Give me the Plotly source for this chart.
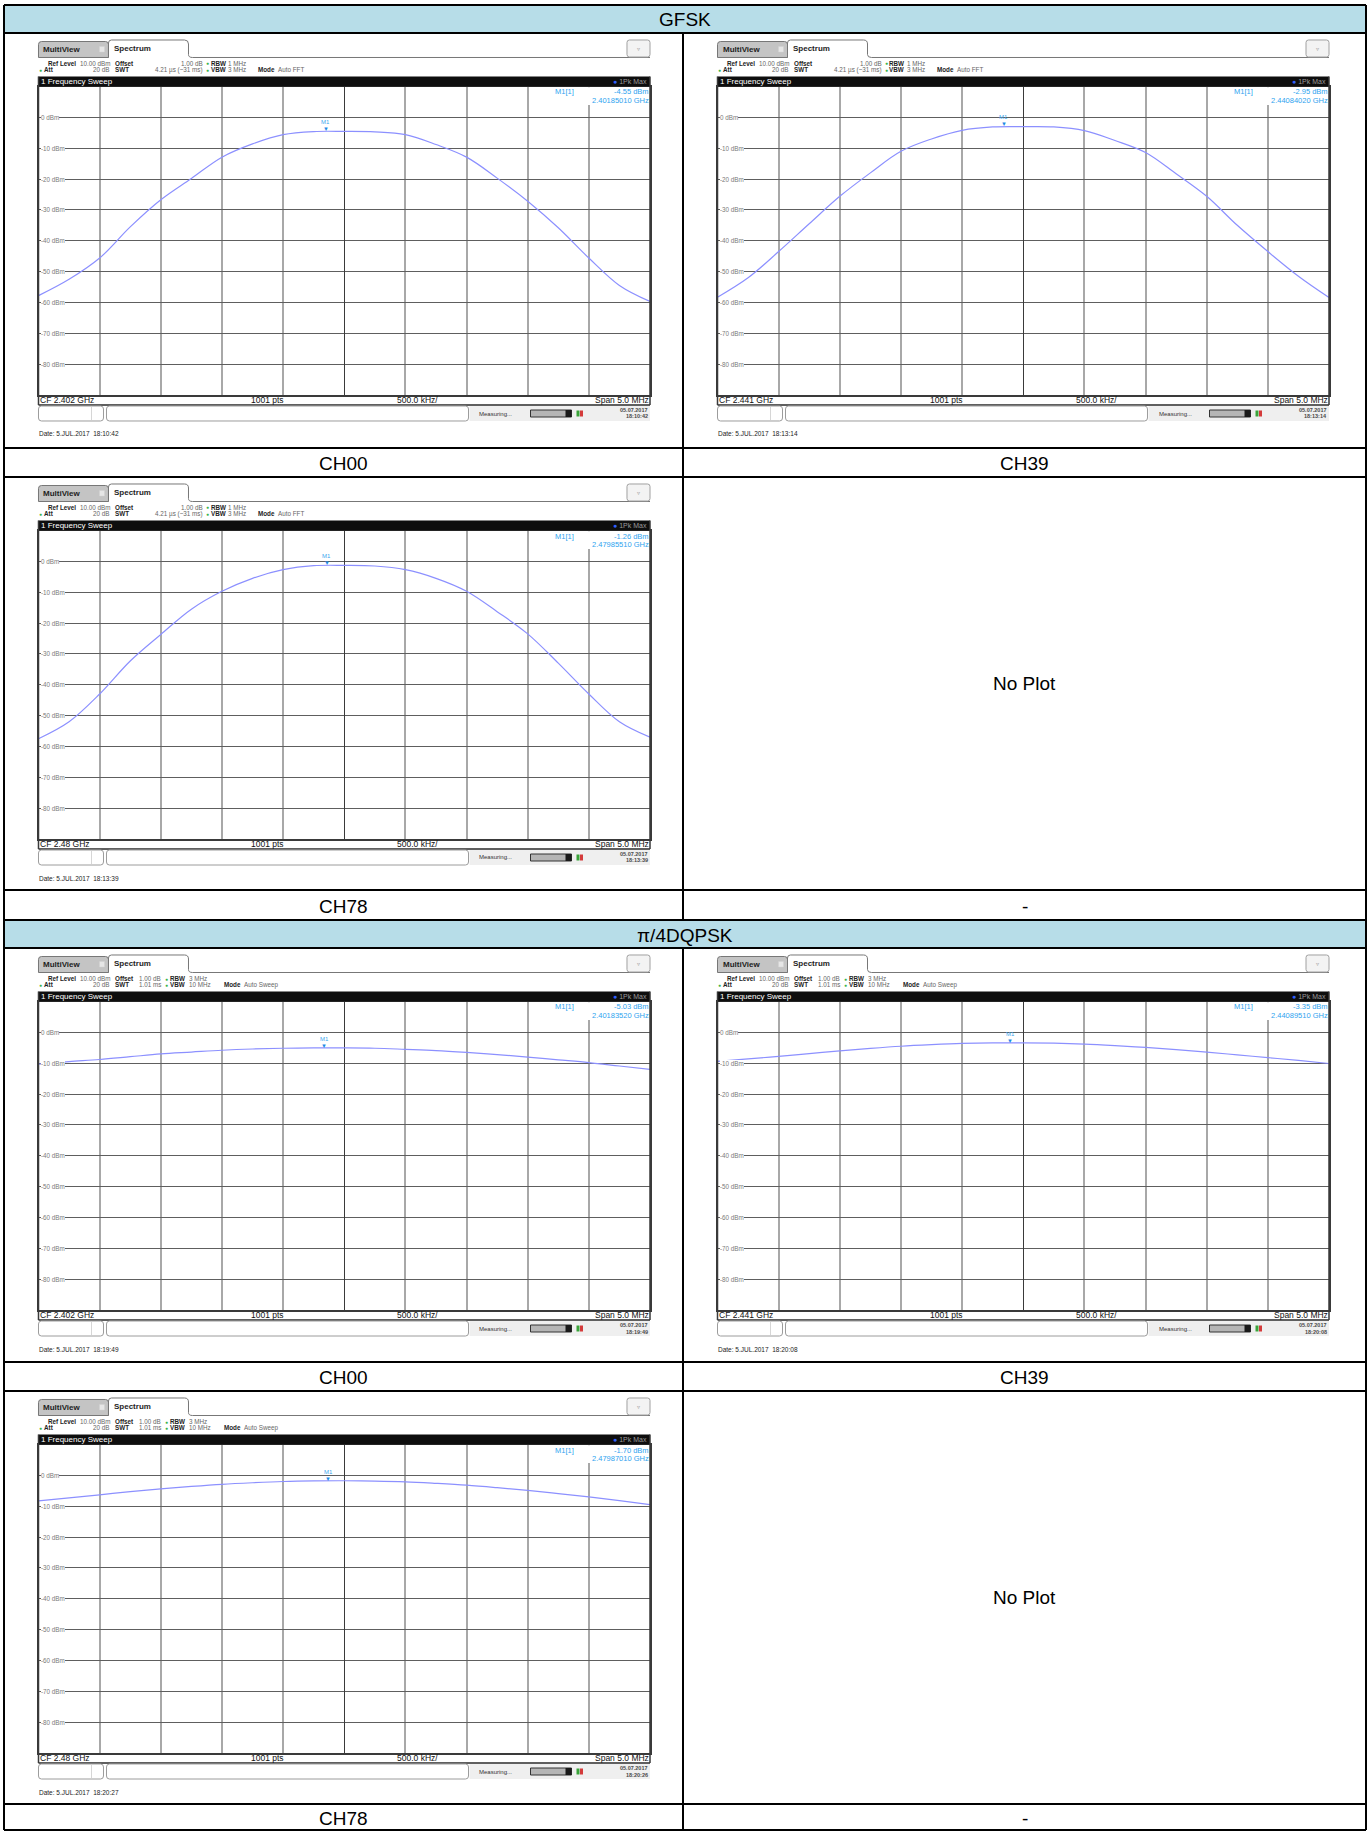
import plotly.graph_objects as go

W, H = 1370, 1832

# ---------------- data ----------------
FREQ_OFFSET_MHZ = [-2.5, -2.25, -2.0, -1.75, -1.5, -1.25, -1.0, -0.75, -0.5, -0.25, 0.0,
                   0.25, 0.5, 0.75, 1.0, 1.25, 1.5, 1.75, 2.0, 2.25, 2.5]
LEVEL_TICKS_DBM = [0, -10, -20, -30, -40, -50, -60, -70, -80]

CHANNELS = ["CH00", "CH39", "CH78"]
CENTER_GHZ = [2.402, 2.441, 2.48]
CF_LABELS = ["CF 2.402 GHz", "CF 2.441 GHz", "CF 2.48 GHz"]

GFSK_CH00 = [-57.8, -52.5, -45.6, -35.5, -26.7, -19.8, -12.9, -8.6, -5.6, -4.6, -4.55,
             -4.7, -5.6, -8.8, -12.9, -19.7, -27.2, -35.8, -45.6, -54.5, -59.7]
GFSK_CH39 = [-58.3, -52.0, -43.5, -34.5, -25.6, -18.0, -11.0, -7.0, -4.2, -3.1, -3.0,
             -3.1, -4.3, -7.5, -11.4, -18.3, -25.6, -35.0, -43.5, -51.5, -58.4]
GFSK_CH78 = [-57.5, -52.0, -43.0, -32.3, -23.7, -15.5, -9.7, -5.5, -2.7, -1.4, -1.3,
             -1.5, -2.7, -5.5, -9.7, -16.3, -23.5, -33.0, -43.0, -52.0, -57.0]

DQPSK_CH00 = [-10.3, -9.5, -8.8, -7.9, -7.0, -6.4, -5.8, -5.4, -5.15, -5.05, -5.05,
              -5.15, -5.5, -5.9, -6.5, -7.2, -8.0, -8.9, -9.8, -10.9, -12.0]
DQPSK_CH39 = [-9.4, -8.6, -7.8, -6.9, -6.0, -5.2, -4.5, -4.0, -3.6, -3.4, -3.4,
              -3.5, -3.8, -4.3, -4.9, -5.6, -6.4, -7.3, -8.2, -9.1, -10.1]
DQPSK_CH78 = [-8.3, -7.3, -6.3, -5.3, -4.4, -3.6, -2.9, -2.4, -2.0, -1.8, -1.75,
              -1.85, -2.1, -2.6, -3.2, -4.0, -4.9, -5.9, -7.0, -8.2, -9.5]

MARKER_GFSK_GHZ = [2.40185010, 2.44084020, 2.47985510]
MARKER_GFSK_DBM = [-4.55, -2.95, -1.26]
MARKER_DQPSK_GHZ = [2.40183520, 2.44089510, 2.47987010]
MARKER_DQPSK_DBM = [-5.03, -3.35, -1.70]

DATE_TIMES_GFSK = ["18:10:42", "18:13:14", "18:13:39"]
STATUS_TIMES_GFSK = ["18:10:42", "18:13:14", "18:13:39"]
DATE_TIMES_DQPSK = ["18:19:49", "18:20:08", "18:20:27"]
STATUS_TIMES_DQPSK = ["18:19:49", "18:20:08", "18:20:26"]

SECTION_TITLES = ["GFSK", "π/4DQPSK"]

# ---------------- helpers ----------------
SCR = "Liberation Sans Narrow, Arial Narrow, Liberation Sans, Arial, sans-serif"
TAB = "Liberation Sans, Arial, sans-serif"

shapes, annos, traces = [], [], []
axes = {}


def X(px):
    return px / W


def Y(py):
    return 1 - py / H


def add_rect(x0, y0, x1, y1, fill="rgba(0,0,0,0)", line="rgba(0,0,0,0)", lw=0):
    shapes.append(dict(type="rect", xref="paper", yref="paper", x0=X(x0), x1=X(x1),
                       y0=Y(y1), y1=Y(y0), fillcolor=fill,
                       line=dict(color=line, width=lw), layer="above"))


def add_line(x0, y0, x1, y1, color="#000", lw=1):
    shapes.append(dict(type="line", xref="paper", yref="paper", x0=X(x0), x1=X(x1),
                       y0=Y(y0), y1=Y(y1), line=dict(color=color, width=lw), layer="above"))


def add_path(segs, fill="rgba(0,0,0,0)", line="rgba(0,0,0,0)", lw=1):
    parts = []
    for s in segs:
        c, nums = s[0], s[1:]
        pts = [f"{X(nums[i]):.6f},{Y(nums[i + 1]):.6f}" for i in range(0, len(nums), 2)]
        parts.append(c + " " + " ".join(pts) if pts else c)
    shapes.append(dict(type="path", xref="paper", yref="paper", path=" ".join(parts),
                       fillcolor=fill, line=dict(color=line, width=lw), layer="above"))


def rrect(x0, y0, x1, y1, r, fill, line, lw=1):
    add_path([("M", x0 + r, y0), ("L", x1 - r, y0), ("Q", x1, y0, x1, y0 + r),
              ("L", x1, y1 - r), ("Q", x1, y1, x1 - r, y1), ("L", x0 + r, y1),
              ("Q", x0, y1, x0, y1 - r), ("L", x0, y0 + r), ("Q", x0, y0, x0 + r, y0), ("Z",)],
             fill=fill, line=line, lw=lw)


def add_text(x, y, s, size=7, color="#222", xa="left", ya="middle", family=SCR, bg=None,
             xref="paper", yref="paper", yshift=0):
    a = dict(xref=xref, yref=yref, x=X(x) if xref == "paper" else x,
             y=Y(y) if yref == "paper" else y, text=s, showarrow=False,
             xanchor=xa, yanchor=ya, font=dict(size=size, color=color, family=family),
             borderpad=0, borderwidth=0, yshift=yshift)
    if bg:
        a["bgcolor"] = bg
    annos.append(a)


def b(s):
    return f"<b>{s}</b>"


GREEN = "#3cb34a"
INFO = 6.3


def add_panel(k, cl, rt, cf, vals, mk_f, mk_db, cf_label, date_t, status_t, mode):
    L, R = cl + 34.5, cl + 646
    T, B = rt + 53.5, rt + 362
    dw = (R - L) / 10
    ax = "" if k == 1 else str(k)

    axes[f"xaxis{ax}"] = dict(domain=[X(L), X(R)], range=[-2.5, 2.5], anchor=f"y{ax}",
                              showgrid=True, gridcolor="#a8a8a8", gridwidth=1.5,
                              tick0=-2.5, dtick=0.5, showticklabels=False, ticks="",
                              zeroline=True, zerolinecolor="#3a3a3a", zerolinewidth=1,
                              showline=True, mirror=True, linecolor="#3a3a3a", linewidth=1.5,
                              fixedrange=True)
    axes[f"yaxis{ax}"] = dict(domain=[Y(B), Y(T)], range=[-90, 10], anchor=f"x{ax}",
                              showgrid=True, gridcolor="#5e5e5e", gridwidth=1,
                              tick0=0, dtick=10, showticklabels=False, ticks="",
                              zeroline=False, showline=True, mirror=True,
                              linecolor="#3a3a3a", linewidth=1.5, fixedrange=True)

    traces.append(go.Scatter(x=FREQ_OFFSET_MHZ, y=vals, xaxis=f"x{ax}", yaxis=f"y{ax}",
                             mode="lines", hoverinfo="skip", showlegend=False,
                             line=dict(color="#8c90ff", width=1.2, shape="spline",
                                       smoothing=1.0)))

    # y labels inside plot
    for v in LEVEL_TICKS_DBM:
        add_text(L + 2, v, f"{v} dBm", size=6.3, color="#7a7a7a", bg="white",
                 yref=f"y{ax}")

    # marker readout box
    add_rect(L + 8.35 * dw, T + 0.8, R - 0.8, T + 18.5, fill="white")
    add_text(L + 8.45 * dw, T + 5.5, "M1[1]", size=7.5, color="#2ea3ef")
    add_text(R - 1, T + 5.5, f"{mk_db:.2f} dBm", size=7.5, color="#2ea3ef", xa="right")
    add_text(R - 1, T + 14, f"{mk_f:.8f} GHz", size=7.5, color="#2ea3ef", xa="right")

    # marker M1
    mx = (mk_f - cf) * 1000.0
    add_text(mx, mk_db, "▼", size=6, color="#1b8be6", xa="center", ya="bottom",
             xref=f"x{ax}", yref=f"y{ax}", yshift=-1)
    add_text(mx, mk_db, "M1", size=6, color="#3aa6ee", xa="center", ya="bottom",
             xref=f"x{ax}", yref=f"y{ax}", yshift=6)

    # sweep bar
    bar_top = rt + 43.5
    add_rect(L, bar_top, R, T, fill="#0e0e0e")
    add_text(L + 2, (bar_top + T) / 2, "1 Frequency Sweep", size=8, color="white")
    add_text(R - 3, (bar_top + T) / 2,
             "<span style='color:#3060ff'>●</span> 1Pk Max", size=7, color="#9a9a9a",
             xa="right")

    # bottom info row + frame
    add_text(L + 1, B + 5, cf_label, size=8.5, color="#111")
    add_text(L + 3.74 * dw, B + 5, "1001 pts", size=8.5, color="#111", xa="center")
    add_text(L + 6.2 * dw, B + 5, "500.0 kHz/", size=8.5, color="#111", xa="center")
    add_text(R - 1, B + 5, "Span 5.0 MHz", size=8.5, color="#111", xa="right")
    add_line(L, B + 10, R, B + 10, color="#2a2a2a", lw=1.5)
    add_line(L, bar_top, L, B + 10, color="#3a3a3a", lw=1.5)
    add_line(R, bar_top, R, B + 10, color="#3a3a3a", lw=1.5)

    # tabs
    ty0, ty1 = rt + 8.5, rt + 24.5
    add_path([("M", L, ty1), ("L", L, ty0 + 3), ("Q", L, ty0, L + 3, ty0),
              ("L", L + 67, ty0), ("Q", L + 70, ty0, L + 70, ty0 + 3), ("L", L + 70, ty1), ("Z",)],
             fill="#c4c4c4", line="#777777", lw=1)
    add_text(L + 5, (ty0 + ty1) / 2, b("MultiView"), size=8, color="#1e1e1e", family=TAB)
    add_rect(L + 61, ty0 + 5, L + 66, ty0 + 10.5, fill="#e6e6e6", line="#d0d0d0", lw=0.5)
    sy0 = rt + 7
    add_path([("M", L + 70, ty1), ("L", L + 70, sy0 + 3), ("Q", L + 70, sy0, L + 73, sy0),
              ("L", L + 146, sy0), ("Q", L + 150, sy0, L + 150, sy0 + 4),
              ("L", L + 150, ty1 - 3), ("Q", L + 150, ty1, L + 154, ty1),
              ("L", R, ty1)],
             fill="rgba(0,0,0,0)", line="#777777", lw=1)
    add_text(L + 75, (sy0 + ty1) / 2, b("Spectrum"), size=8, color="#1e1e1e", family=TAB)
    rrect(R - 23, sy0, R, ty1 - 0.5, 2.5, fill="#f3f3f3", line="#a0a0a0", lw=1)
    add_text(R - 11.5, (sy0 + ty1) / 2, "▿", size=6, color="#9a9a9a", xa="center")

    # settings text
    y1, y2 = rt + 30.5, rt + 36.8
    add_text(cl + 44, y1, b("Ref Level"), size=INFO)
    add_text(cl + 76, y1, "10.00 dBm", size=INFO, color="#666")
    add_text(cl + 36.5, y2, "●", size=5, color=GREEN, xa="center")
    add_text(cl + 40, y2, b("Att"), size=INFO)
    add_text(cl + 105, y2, "20 dB", size=INFO, color="#666", xa="right")
    add_text(cl + 111, y1, b("Offset"), size=INFO)
    add_text(cl + 111, y2, b("SWT"), size=INFO)
    if mode == "GFSK":
        add_text(cl + 199, y1, "1.00 dB", size=INFO, color="#666", xa="right")
        add_text(cl + 199, y2, "4.21 µs (~31 ms)", size=INFO, color="#666", xa="right")
        dx = cl + 203
        add_text(dx, y1, "●", size=5, color=GREEN, xa="center")
        add_text(dx, y2, "●", size=5, color=GREEN, xa="center")
        add_text(dx + 3.5, y1, b("RBW"), size=INFO)
        add_text(dx + 3.5, y2, b("VBW"), size=INFO)
        add_text(dx + 21, y1, "1 MHz", size=INFO, color="#666")
        add_text(dx + 21, y2, "3 MHz", size=INFO, color="#666")
        add_text(cl + 254, y2, b("Mode"), size=INFO)
        add_text(cl + 274, y2, "Auto FFT", size=INFO, color="#666")
    else:
        add_text(cl + 135, y1, "1.00 dB", size=INFO, color="#666")
        add_text(cl + 135, y2, "1.01 ms", size=INFO, color="#666")
        dx = cl + 162
        add_text(dx, y1, "●", size=5, color=GREEN, xa="center")
        add_text(dx, y2, "●", size=5, color=GREEN, xa="center")
        add_text(dx + 3.5, y1, b("RBW"), size=INFO)
        add_text(dx + 3.5, y2, b("VBW"), size=INFO)
        add_text(dx + 23, y1, "3 MHz", size=INFO, color="#666")
        add_text(dx + 23, y2, "10 MHz", size=INFO, color="#666")
        add_text(cl + 220, y2, b("Mode"), size=INFO)
        add_text(cl + 240, y2, "Auto Sweep", size=INFO, color="#666")

    # status row
    sy_a, sy_b = rt + 373, rt + 388
    rrect(L, sy_a, L + 65, sy_b, 3, fill="white", line="#9c9c9c", lw=1)
    add_line(L + 53, sy_a + 1, L + 53, sy_b - 1, color="#d6d6d6", lw=1)
    rrect(L + 68, sy_a, L + 430, sy_b, 3, fill="white", line="#9c9c9c", lw=1)
    add_rect(L + 431, sy_a, R, sy_b, fill="#efefef")
    add_text(L + 441, (sy_a + sy_b) / 2, "Measuring...", size=6, color="#333")
    add_rect(L + 492, sy_a + 4, L + 533, sy_b - 4, fill="#b5b5b5", line="#333", lw=1)
    add_rect(L + 527, sy_a + 4, L + 533, sy_b - 4, fill="#1a1a1a")
    add_rect(L + 538, sy_a + 4.5, L + 541, sy_b - 4.5, fill="#3aa43a")
    add_rect(L + 541.5, sy_a + 4.5, L + 544.5, sy_b - 4.5, fill="#d43b3b")
    add_text(R - 2, sy_a + 3.8, b("05.07.2017"), size=5.5, color="#4a4a4a", xa="right")
    add_text(R - 2, sy_a + 10.5, b(status_t), size=5.5, color="#4a4a4a", xa="right")

    add_text(L, rt + 401, f"Date: 5.JUL.2017  {date_t}", size=6.5, color="#222")


# ---------------- table ----------------
LEFT, MID, RIGHT = 4, 683, 1366
HEAD_ROWS = [(5, 33), (920, 948)]
CAP_ROWS = [(448, 477), (890, 920), (1362, 1391), (1804, 1830)]
PANEL_TOPS = [33, 477, 948, 1391]

for (y0, y1), title in zip(HEAD_ROWS, SECTION_TITLES):
    add_rect(LEFT, y0, RIGHT, y1, fill="#b7dde8")
    add_text((LEFT + RIGHT) / 2, (y0 + y1) / 2 + 1, title, size=19, color="#000", xa="center",
             family=TAB)

caption_right = ["CH39", "-", "CH39", "-"]
caption_left = ["CH00", "CH78", "CH00", "CH78"]
for (y0, y1), cL, cR in zip(CAP_ROWS, caption_left, caption_right):
    add_text((LEFT + MID) / 2, (y0 + y1) / 2 + 1, cL, size=19, color="#000", xa="center",
             family=TAB)
    add_text((MID + RIGHT) / 2, (y0 + y1) / 2 + 1, cR, size=19, color="#000", xa="center",
             family=TAB)

for top, bot in [(477, 890), (1391, 1804)]:
    add_text((MID + RIGHT) / 2, (top + bot) / 2, "No Plot", size=19, color="#000",
             xa="center", family=TAB)

# panels
GFSK = [GFSK_CH00, GFSK_CH39, GFSK_CH78]
DQPSK = [DQPSK_CH00, DQPSK_CH39, DQPSK_CH78]
cells = [(LEFT, PANEL_TOPS[0]), (MID, PANEL_TOPS[0]), (LEFT, PANEL_TOPS[1])]
cells2 = [(LEFT, PANEL_TOPS[2]), (MID, PANEL_TOPS[2]), (LEFT, PANEL_TOPS[3])]
k = 1
for i in range(3):
    cl, rt = cells[i]
    add_panel(k, cl, rt, CENTER_GHZ[i], GFSK[i], MARKER_GFSK_GHZ[i], MARKER_GFSK_DBM[i],
              CF_LABELS[i], DATE_TIMES_GFSK[i], STATUS_TIMES_GFSK[i], "GFSK")
    k += 1
for i in range(3):
    cl, rt = cells2[i]
    add_panel(k, cl, rt, CENTER_GHZ[i], DQPSK[i], MARKER_DQPSK_GHZ[i], MARKER_DQPSK_DBM[i],
              CF_LABELS[i], DATE_TIMES_DQPSK[i], STATUS_TIMES_DQPSK[i], "DQPSK")
    k += 1

# table rules
for y in [5, 33, 448, 477, 890, 920, 948, 1362, 1391, 1804, 1830]:
    add_line(LEFT, y, RIGHT, y, color="#000", lw=2)
add_line(LEFT, 5, LEFT, 1830, color="#000", lw=2)
add_line(RIGHT, 5, RIGHT, 1830, color="#000", lw=2)
add_line(MID, 33, MID, 920, color="#000", lw=2)
add_line(MID, 948, MID, 1830, color="#000", lw=2)

fig = go.Figure(data=traces)
fig.update_layout(width=W, height=H, margin=dict(l=0, r=0, t=0, b=0),
                  paper_bgcolor="white", plot_bgcolor="white", showlegend=False,
                  shapes=shapes, annotations=annos, **axes)
fig.write_html("out.html", config={"displayModeBar": False},
               post_script="document.body.style.margin='0';document.body.style.overflow='hidden';")
